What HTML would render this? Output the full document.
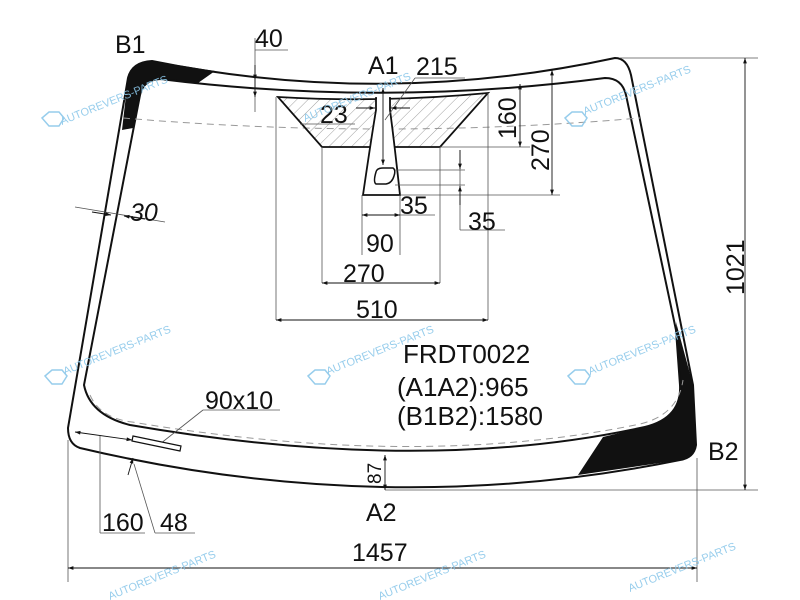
<!DOCTYPE html>
<html><head><meta charset="utf-8"><style>
html,body{margin:0;padding:0;background:#fff;}
svg{display:block;}
text{font-family:"Liberation Sans",Arial,sans-serif;fill:#111;}
.t{font-size:25px;}
.w{font-size:11px;fill:#8cc8ea;}
</style></head><body>
<svg width="800" height="600" viewBox="0 0 800 600" xmlns="http://www.w3.org/2000/svg">
<defs>
<pattern id="h" width="8" height="8" patternUnits="userSpaceOnUse" patternTransform="rotate(45)">
<line x1="0" y1="0" x2="0" y2="8" stroke="#888" stroke-width="0.8"/>
</pattern>
<marker id="a" viewBox="0 0 10 10" refX="10" refY="5" markerWidth="9" markerHeight="6" orient="auto-start-reverse"><path d="M0,1.5 L10,5 L0,8.5Z" fill="#111"/></marker>
</defs>

<path d="M152,61 Q383,108 615,58 Q627,58 631,75 L693,385 L696,445 Q694,458 680,460 Q385,520 80,448 Q68,444 68,428 L128,78 Q132,62 152,61 Z" fill="#fff" stroke="#111" stroke-width="2"/>
<path d="M122,130 L128,78 Q132,62 152,61 L215,71 L198,83 L160,79 Q145,80 140,95 L133,128 Z" fill="#111"/>
<path d="M676,322 L693,385 L696,445 Q694,458 680,460 L578,475 L603,437 L640,428 Q682,420 680,385 Z" fill="#111"/>
<path d="M160,79 Q383,107 605,78 Q622,78 626,95 L676,330 L680,385 Q682,420 640,428 Q420,475 130,425 Q90,415 84,385 L140,95 Q143,80 160,79 Z" fill="none" stroke="#111" stroke-width="2"/>
<path d="M123,118 Q383,140 640,118" fill="none" stroke="#999" stroke-width="1" stroke-dasharray="7,5"/>
<path d="M90,395 Q100,418 132,422 Q420,470 640,424 Q678,415 683,380" fill="none" stroke="#999" stroke-width="1" stroke-dasharray="7,5"/>

<path d="M278,97 Q383,103 488,93 L440,147 L322,147 Z" fill="url(#h)" stroke="#111" stroke-width="1.8"/>
<path d="M376,98 L376,110 Q371,140 363,195 L400,195 Q394,140 390,110 L390,98 Z" fill="#fff" stroke="#111" stroke-width="1.8"/>
<path d="M377,98 L389,98" stroke="#fff" stroke-width="3"/>
<path d="M376,172 Q377,168 383,168 L393,168 Q396,170 394,176 Q392,183 386,184 L376,184 Q373,182 376,172Z" fill="#fff" stroke="#111" stroke-width="1.5"/>

<g stroke="#555" stroke-width="0.8" fill="none">
<line x1="255" y1="38" x2="255" y2="112"/><line x1="255" y1="50" x2="288" y2="50"/>
<line x1="385" y1="120" x2="415" y2="78"/><line x1="415" y1="78" x2="465" y2="78"/>
<line x1="300" y1="124" x2="355" y2="124"/>
<line x1="440" y1="147" x2="530" y2="147"/>
<line x1="400" y1="195" x2="560" y2="195"/>
<line x1="488" y1="93" x2="488" y2="320"/>
<line x1="276" y1="97" x2="276" y2="320"/>
<line x1="322" y1="147" x2="322" y2="283"/>
<line x1="440" y1="147" x2="440" y2="283"/>
<line x1="362" y1="195" x2="362" y2="255"/>
<line x1="400" y1="195" x2="400" y2="255"/>
<line x1="395" y1="170" x2="465" y2="170"/>
<line x1="395" y1="185" x2="465" y2="185"/>
<line x1="460" y1="150" x2="460" y2="230"/><line x1="460" y1="230" x2="505" y2="230"/>
<line x1="400" y1="215" x2="435" y2="215"/>
<line x1="75" y1="207" x2="165" y2="222"/>
<line x1="160" y1="444" x2="203" y2="410"/><line x1="203" y1="410" x2="280" y2="410"/>
<line x1="100" y1="436" x2="100" y2="533"/><line x1="100" y1="533" x2="145" y2="533"/>
<line x1="134" y1="464" x2="155" y2="533"/><line x1="155" y1="533" x2="195" y2="533"/>
<line x1="68" y1="440" x2="68" y2="582"/><line x1="697" y1="458" x2="697" y2="582"/>
<line x1="620" y1="58" x2="758" y2="58"/><line x1="385" y1="490" x2="758" y2="490"/>
</g>

<g stroke="#111" stroke-width="0.9" fill="none" marker-end="url(#a)" marker-start="url(#a)">
<line x1="255" y1="80" x2="255" y2="97" marker-start="none"/>
<line x1="255" y1="65" x2="255" y2="80" marker-start="none"/>
<line x1="383" y1="88" x2="383" y2="165"/>
<line x1="520" y1="84" x2="520" y2="147"/>
<line x1="552" y1="70" x2="552" y2="195"/>
<line x1="362" y1="215" x2="400" y2="215"/>
<line x1="322" y1="283" x2="440" y2="283"/>
<line x1="276" y1="320" x2="488" y2="320"/>
<line x1="68" y1="568" x2="697" y2="568"/>
<line x1="745" y1="58" x2="745" y2="490"/>
<line x1="385" y1="455" x2="385" y2="490"/>
<line x1="75" y1="432" x2="132" y2="440"/>
<line x1="356" y1="108" x2="375" y2="108" marker-start="none"/>
<line x1="410" y1="108" x2="391" y2="108" marker-start="none"/>
<line x1="460" y1="150" x2="460" y2="169" marker-start="none"/>
<line x1="460" y1="205" x2="460" y2="186" marker-start="none"/>
<line x1="92" y1="212" x2="111" y2="215" marker-start="none"/>
<line x1="145" y1="219" x2="124" y2="216" marker-start="none"/>
<line x1="128" y1="475" x2="133" y2="458" marker-start="none"/>
</g>
<path d="M133,436 L181,446 L180,451 L132,441 Z" fill="#fff" stroke="#111" stroke-width="1.2"/>

<text class="t" x="115" y="53">B1</text>
<text class="t" x="255" y="47">40</text>
<text class="t" x="368" y="74">A1</text>
<text class="t" x="416" y="75">215</text>
<text class="t" x="320" y="123">23</text>
<text class="t" transform="translate(516,118) rotate(-90)" x="-21" y="0">160</text>
<text class="t" transform="translate(549,150) rotate(-90)" x="-21" y="0">270</text>
<text class="t" x="400" y="214">35</text>
<text class="t" x="468" y="230">35</text>
<text class="t" x="366" y="252">90</text>
<text class="t" x="343" y="282">270</text>
<text class="t" x="356" y="318">510</text>
<text class="t" x="130" y="221" font-style="italic">30</text>
<text x="403" y="363" font-size="26">FRDT0022</text>
<text x="397" y="396" font-size="26">(A1A2):965</text>
<text x="397" y="425" font-size="26">(B1B2):1580</text>
<text class="t" x="205" y="409">90x10</text>
<text class="t" x="102" y="531">160</text>
<text class="t" x="160" y="531">48</text>
<text font-size="19" transform="translate(381,472) rotate(-90)" x="-12" y="0">87</text>
<text class="t" x="366" y="521">A2</text>
<text class="t" x="352" y="561">1457</text>
<text class="t" transform="translate(744,268) rotate(-90)" x="-27" y="0">1021</text>
<text class="t" x="708" y="460">B2</text>

<g opacity="0.9">
<text class="w" transform="translate(62,125) rotate(-22)">AUTOREVERS-PARTS</text>
<text class="w" transform="translate(305,122) rotate(-22)">AUTOREVERS-PARTS</text>
<text class="w" transform="translate(585,115) rotate(-22)">AUTOREVERS-PARTS</text>
<text class="w" transform="translate(65,375) rotate(-22)">AUTOREVERS-PARTS</text>
<text class="w" transform="translate(328,375) rotate(-22)">AUTOREVERS-PARTS</text>
<text class="w" transform="translate(590,375) rotate(-22)">AUTOREVERS-PARTS</text>
<text class="w" transform="translate(110,600) rotate(-22)">AUTOREVERS-PARTS</text>
<text class="w" transform="translate(380,600) rotate(-22)">AUTOREVERS-PARTS</text>
<text class="w" transform="translate(630,592) rotate(-22)">AUTOREVERS-PARTS</text>
<path d="M42,118 l7,-6 h10 l5,6 l-5,8 h-10z" fill="none" stroke="#8cc8ea" stroke-width="1.5"/>
<path d="M565,118 l7,-6 h10 l5,6 l-5,8 h-10z" fill="none" stroke="#8cc8ea" stroke-width="1.5"/>
<path d="M45,376 l7,-6 h10 l5,6 l-5,8 h-10z" fill="none" stroke="#8cc8ea" stroke-width="1.5"/>
<path d="M308,376 l7,-6 h10 l5,6 l-5,8 h-10z" fill="none" stroke="#8cc8ea" stroke-width="1.5"/>
<path d="M568,376 l7,-6 h10 l5,6 l-5,8 h-10z" fill="none" stroke="#8cc8ea" stroke-width="1.5"/>
</g>
</svg>
</body></html>
